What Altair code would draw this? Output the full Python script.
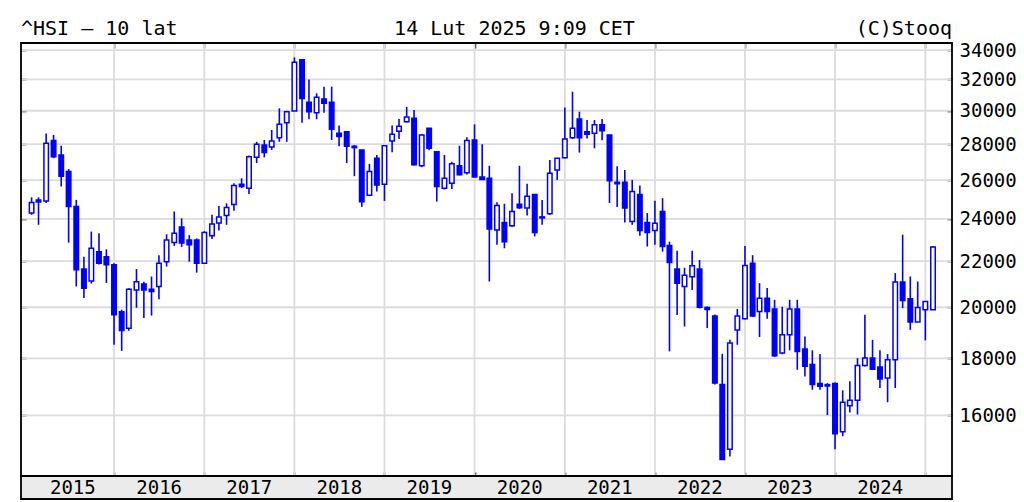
import altair as alt
import pandas as pd

# ---------------- data (monthly candles, Feb 2015 - Feb 2025) ----------------
months = pd.date_range("2015-02-01", "2025-02-01", freq="MS").strftime("%Y-%m-%d").tolist()

opens = [
    24290, 24950, 24900, 28210, 27380, 26460, 24620, 21640, 21110, 22430, 22200,
    21830, 19820, 19150, 20730, 20980, 20760, 20880, 21970, 22860, 23600, 22980, 22980,
    21900, 23180, 23800, 24170, 24720, 25780, 25570, 27250, 27950, 27840, 28380, 29260,
    29990, 33320, 30530, 29880, 30730, 30530, 28640, 28730, 27880, 27670, 25200, 27200,
    25780, 28190, 28750, 29320, 29540, 26780, 28930, 27570, 25570, 25830, 26780, 26400,
    28245, 26170, 26100, 23460, 23820, 23660, 24740, 24540, 25240, 24100, 24260, 26550,
    27220, 28380, 29500, 28730, 28640, 29140, 28540, 25880, 25880, 23870, 25240, 23820,
    23430, 24370, 22720, 21640, 20880, 21300, 21640, 19990, 19640, 17050, 14920, 19080,
    19530, 21900, 19830, 20380, 19930, 18200, 18900, 19930, 18350, 17770, 17090, 17050,
    17090, 15470, 16320, 16510, 17740, 18010, 17680, 17280, 17950, 21070, 20350, 19400,
    19900, 19900,
]
highs = [
    25090, 25090, 28620, 28540, 27910, 26600, 24960, 22200, 23380, 23300, 22540,
    21900, 19900, 20800, 21640, 21080, 21310, 22270, 23250, 24370, 24030, 23210, 23050,
    23400, 24200, 24650, 24780, 25830, 26100, 27350, 28140, 28245, 28830, 30150, 29990,
    33490, 33320, 31990, 31100, 31530, 31530, 29100, 28730, 27950, 27670, 26890, 27380,
    27910, 29100, 29500, 30240, 30050, 28600, 28950, 27600, 27380, 27000, 27910, 28400,
    29170, 27990, 26780, 24840, 24760, 25300, 26780, 25800, 25240, 24960, 27100, 27200,
    30200, 31200, 29940, 29430, 29430, 29500, 28540, 26750, 26550, 26009, 25710, 24290,
    24910, 25050, 22900, 22470, 21700, 22470, 22050, 20030, 19700, 18170, 18700, 19930,
    22700, 22270, 21020, 20810, 20310, 20020, 20310, 20310, 18830, 18300, 18160, 17100,
    17120, 16850, 17170, 18010, 19690, 18700, 18300, 18160, 21460, 23230, 21310, 21090,
    20240, 22700,
]
lows = [
    24200, 23710, 24800, 27200, 25660, 22850, 20880, 20390, 21000, 21850, 21030,
    18510, 18280, 19050, 19980, 19560, 19660, 20330, 21750, 22700, 22650, 21970, 21480,
    21880, 23020, 23430, 23710, 24410, 25570, 25270, 26930, 27250, 27670, 28140, 28140,
    29990, 29260, 29480, 29480, 29880, 28245, 27880, 26930, 26210, 24600, 25150, 25400,
    24910, 27540, 28300, 29280, 26800, 26700, 27650, 24870, 25500, 25530, 26250, 26300,
    26150, 26000, 21090, 22750, 22590, 23600, 24500, 24170, 23150, 23710, 24200, 26009,
    27200, 28300, 27520, 28330, 27760, 28230, 24800, 24600, 23820, 23710, 23180, 22670,
    22750, 22430, 18260, 19680, 19220, 20730, 19950, 19160, 17050, 14597, 14700, 18510,
    19500, 19600, 18810, 19530, 18050, 18150, 18300, 17580, 17340, 16870, 16870, 16010,
    14920, 15330, 16100, 16030, 17700, 17580, 16930, 16440, 16930, 19960, 19090, 19400,
    18680, 19900,
]
closes = [
    24820, 24850, 28050, 27290, 26210, 24620, 21610, 20800, 22590, 21900, 21830,
    19690, 19060, 20760, 21080, 20730, 20660, 21900, 22980, 23300, 22830, 22750, 21900,
    23330, 23750, 24100, 24570, 25710, 25660, 27290, 27990, 27520, 28190, 29170, 29940,
    33150, 30760, 29940, 30840, 30470, 28870, 28440, 27880, 27800, 24870, 26460, 25740,
    27910, 28580, 29060, 29620, 26840, 28540, 27760, 25660, 26100, 26890, 26290, 28210,
    26170, 26030, 23510, 24670, 22900, 24370, 24560, 25150, 23330, 24050, 26370, 27200,
    28300, 28930, 28380, 28580, 29140, 28790, 25960, 25800, 24540, 25400, 23430, 23330,
    23790, 22670, 21930, 21020, 21370, 21790, 20000, 19910, 17110, 14610, 18580, 19640,
    21800, 19640, 20380, 19830, 18100, 18900, 19930, 18260, 17710, 17050, 16990, 17000,
    15410, 16440, 16510, 17740, 18010, 17600, 17250, 17950, 21070, 20280, 19400, 19990,
    20240, 22650,
]

y_ticks = [16000, 18000, 20000, 22000, 24000, 26000, 28000, 30000, 32000, 34000]
year_starts = [f"{y}-01-01" for y in range(2016, 2026)]
year_labels = [str(y) for y in range(2015, 2025)]

title_left = "^HSI \u2013 10 lat"
title_center = "14 Lut 2025 9:09 CET"
title_right = "(C)Stooq"

# ---------------- tables ----------------
df = pd.DataFrame({"date": months, "open": opens, "high": highs, "low": lows, "close": closes})
df["dir"] = ["up" if c >= o else "down" for o, c in zip(opens, closes)]

first = pd.Timestamp(months[0])
lab_dates = []
for y in year_labels:
    s = max(pd.Timestamp(f"{y}-01-01"), first)
    e = pd.Timestamp(f"{int(y) + 1}-01-01")
    lab_dates.append((s + (e - s) / 2).strftime("%Y-%m-%d"))
labels_df = pd.DataFrame({"d": lab_dates, "t": year_labels})

BLUE = "#0000ff"
GRID = "#dcdcdc"
FONT = "DejaVu Sans Mono"
W, H = 931, 433
BAND = 23

xscale = alt.Scale(domain=[alt.DateTime(year=2014, month=12, date=20),
                           alt.DateTime(year=2025, month=4, date=19)], nice=False, padding=0)
yscale = alt.Scale(type="log", domain=[14120, 34500], nice=False)

year_vals = [alt.DateTime(year=int(s[:4]), month=1, date=1) for s in year_starts]

top_axis = alt.Axis(orient="top", values=year_vals, labels=False, domain=False, grid=False,
                    tickSize=5, offset=-5, tickColor="black", tickWidth=1.5, title=None)
bottom_axis = alt.Axis(orient="bottom", values=year_vals, labels=False, domain=False, grid=False,
                       tickSize=4, offset=-4, tickColor="black", tickWidth=1.5, title=None)
left_axis = alt.Axis(orient="left", values=y_ticks, labels=False, domain=False, grid=False,
                     tickSize=5, offset=-5, tickColor="black", tickWidth=1.5, title=None)
right_axis = alt.Axis(orient="right", values=y_ticks, format="d", domain=False, grid=False,
                      tickSize=5, offset=-5, tickColor="black", tickWidth=1.5, labelPadding=7,
                      labelFont=FONT, labelFontSize=19, labelColor="black", title=None)

vgrid = alt.Chart(pd.DataFrame({"d": year_starts})).mark_rule(color=GRID, strokeWidth=1.8).encode(
    x=alt.X("d:T", scale=xscale, axis=top_axis))
hgrid = alt.Chart(pd.DataFrame({"v": y_ticks})).mark_rule(color=GRID, strokeWidth=1.8).encode(
    y=alt.Y("v:Q", scale=yscale, axis=left_axis))

base = alt.Chart(df)
wicks = base.mark_rule(color=BLUE, strokeWidth=1.6).encode(
    x=alt.X("date:T", scale=xscale, axis=bottom_axis),
    y=alt.Y("low:Q", scale=yscale, axis=right_axis),
    y2="high:Q")
bodies = base.mark_bar(size=4.5, stroke=BLUE, strokeWidth=1.5).encode(
    x=alt.X("date:T", scale=xscale, axis=None),
    y=alt.Y("open:Q", scale=yscale, axis=None),
    y2="close:Q",
    fill=alt.Fill("dir:N", scale=alt.Scale(domain=["up", "down"], range=["white", BLUE]), legend=None))

one = pd.DataFrame({"a": [0]})
band = alt.Chart(one).mark_rect(fill="#ebebeb", stroke="black", strokeWidth=1.8).encode(
    x=alt.value(0), x2=alt.value(W), y=alt.value(H), y2=alt.value(H + BAND))
frame = alt.Chart(one).mark_rect(filled=False, stroke="black", strokeWidth=1.8).encode(
    x=alt.value(0), x2=alt.value(W), y=alt.value(0), y2=alt.value(H))
year_text = alt.Chart(labels_df).mark_text(font=FONT, fontSize=19, color="black", align="center",
                                           baseline="alphabetic").encode(
    x=alt.X("d:T", scale=xscale, axis=None), y=alt.value(H + 17.5), text="t:N")

def header(txt, xpos, align):
    return alt.Chart(pd.DataFrame({"t": [txt]})).mark_text(
        font=FONT, fontSize=20, color="black", align=align, baseline="alphabetic").encode(
        x=alt.value(xpos), y=alt.value(-8), text="t:N")

chart = alt.layer(
    vgrid, hgrid, wicks, bodies, band, frame, year_text,
    header(title_left, 0, "left"),
    header(title_center, 493.5, "center"),
    header(title_right, W, "right"),
).resolve_axis(x="independent", y="independent").properties(
    width=W, height=H,
    autosize=alt.AutoSizeParams(type="none"),
    padding={"left": 13, "top": 35, "right": 64, "bottom": 24},
    background="white",
).configure_view(strokeWidth=0)

chart.save("out.html", embed_options={"renderer": "svg", "actions": False})
